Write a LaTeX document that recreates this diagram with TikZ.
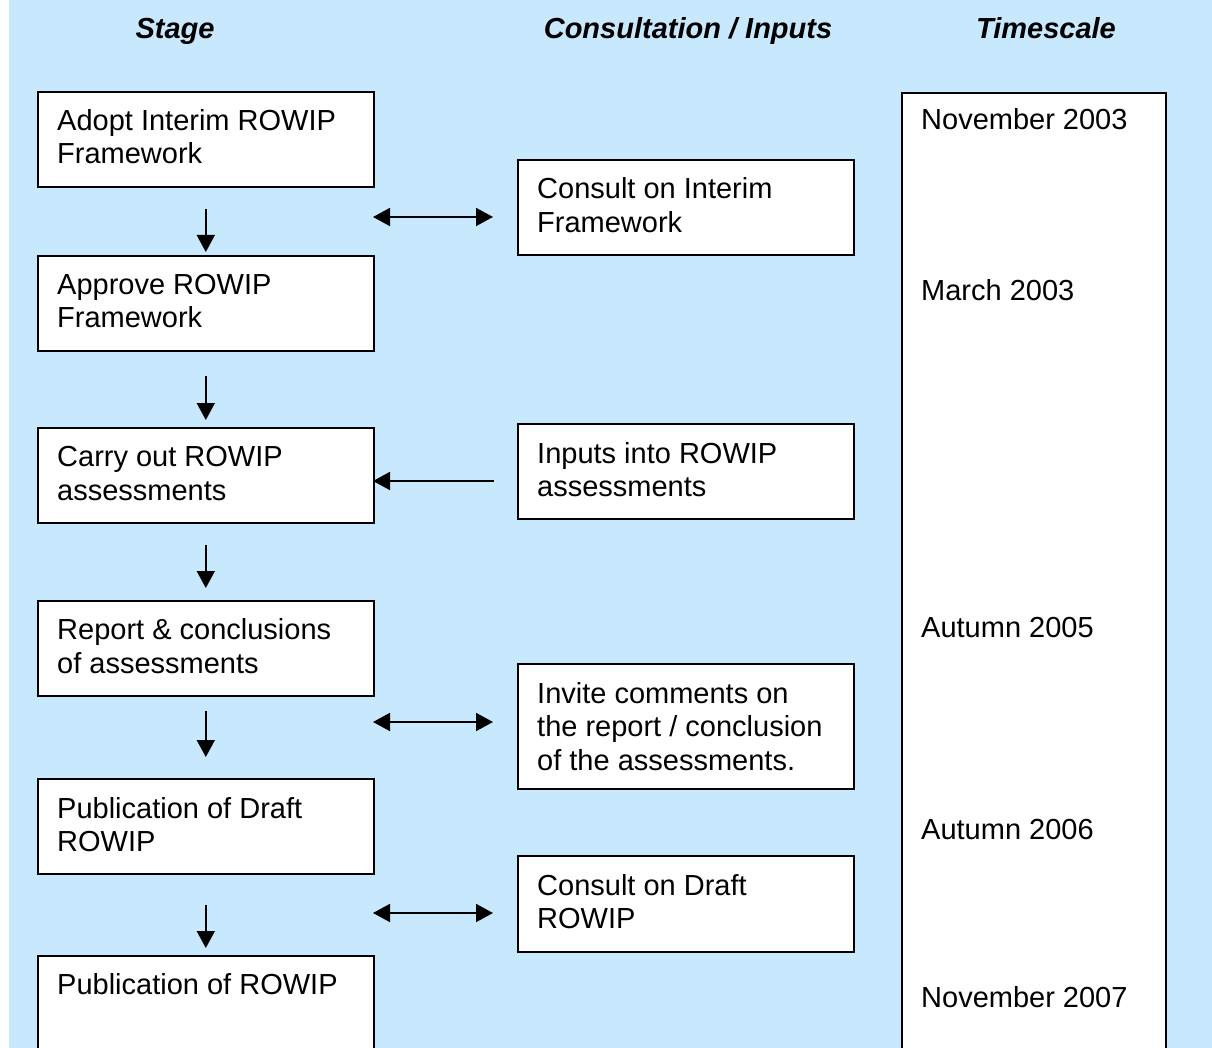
\documentclass[tikz,border=0pt]{standalone}
\usepackage{fontspec}
\setmainfont{Liberation Sans}
\usetikzlibrary{arrows.meta,calc}
\definecolor{bgblue}{RGB}{200,233,253}
\begin{document}
\begin{tikzpicture}[x=1pt,y=-1pt,
  box/.style={draw=black, line width=1.6pt, fill=white, anchor=north west, inner sep=0pt, minimum width=336pt, minimum height=95pt},
  tbox/.style={draw=black, line width=1.6pt, fill=white, anchor=north west, inner sep=0pt, minimum width=264pt, minimum height=1000pt},
  txt/.style={anchor=base west, align=left, inner sep=0pt, font=\fontsize{29}{33.5}\selectfont},
  hdr/.style={anchor=base, inner sep=0pt, font=\fontsize{29}{33.5}\selectfont\bfseries\itshape},
  arr/.style={line width=1.8pt, -{Triangle[width=18pt,length=17pt]}},
  darr/.style={line width=1.8pt, {Triangle[width=18pt,length=17pt]}-{Triangle[width=18pt,length=17pt]}}
]
\clip (0,0) rectangle (1212,1048);
\fill[bgblue] (9,0) rectangle (1212,1048);

% headers
\node[hdr] (h1) at (175,39) {Stage};
\node[hdr] (h2) at (688,39) {Consultation / Inputs};
\node[hdr] (h3) at (1046,39) {Timescale};

% stage boxes
\node[box] (b1) at (37,91) {};
\node[box] (b2) at (37,255) {};
\node[box] (b3) at (37,427) {};
\node[box] (b4) at (37,600) {};
\node[box] (b5) at (37,778) {};
\node[box, minimum height=130pt] (b6) at (37,955) {};

% consultation boxes
\node[box] (m1) at (517,159) {};
\node[box] (m2) at (517,423) {};
\node[box, minimum height=125pt] (m3) at (517,663) {};
\node[box, minimum height=96pt] (m4) at (517,855) {};

% timescale box
\node[tbox] (ts) at (901,92) {};

% texts (base anchor = baseline of the last line)
\node[txt] (tb1) at ($(b1.north west)+(20,73)$) {Adopt Interim ROWIP\\Framework};
\node[txt] (tb2) at ($(b2.north west)+(20,73)$) {Approve ROWIP\\Framework};
\node[txt] (tb3) at ($(b3.north west)+(20,73)$) {Carry out ROWIP\\assessments};
\node[txt] (tb4) at ($(b4.north west)+(20,73)$) {Report \& conclusions\\of assessments};
\node[txt] (tb5) at ($(b5.north west)+(20,73.5)$) {Publication of Draft\\ROWIP};
\node[txt] (tb6) at ($(b6.north west)+(20,39.5)$) {Publication of ROWIP};

\node[txt] (tm1) at ($(m1.north west)+(20,73.5)$) {Consult on Interim\\Framework};
\node[txt] (tm2) at ($(m2.north west)+(20,73.5)$) {Inputs into ROWIP\\assessments};
\node[txt] (tm3) at ($(m3.north west)+(20,107)$) {Invite comments on\\the report / conclusion\\of the assessments.};
\node[txt] (tm4) at ($(m4.north west)+(20,73.5)$) {Consult on Draft\\ROWIP};

\node[txt] (d1) at (921,130) {November 2003};
\node[txt] (d2) at (921,301) {March 2003};
\node[txt] (d3) at (921,637) {Autumn 2005};
\node[txt] (d4) at (921,839) {Autumn 2006};
\node[txt] (d5) at (921,1007) {November 2007};

% vertical arrows
\draw[arr, shorten <=21pt, shorten >=3pt] (b1.south) -- (b2.north);
\draw[arr, shorten <=24pt, shorten >=7pt] (b2.south) -- (b3.north);
\draw[arr, shorten <=21pt, shorten >=12pt] (b3.south) -- (b4.north);
\draw[arr, shorten <=14pt, shorten >=21pt] (b4.south) -- (b5.north);
\draw[arr, shorten <=30pt, shorten >=7pt] (b5.south) -- (b6.north);

% horizontal arrows
\coordinate (a1l) at (373,217); \coordinate (a1r) at (493,217);
\coordinate (a2l) at (373,481); \coordinate (a2r) at (494,481);
\coordinate (a3l) at (373,722); \coordinate (a3r) at (493,722);
\coordinate (a4l) at (373,913); \coordinate (a4r) at (493,913);
\draw[darr] (a1l) -- (a1r);
\draw[arr] (a2r) -- (a2l);
\draw[darr] (a3l) -- (a3r);
\draw[darr] (a4l) -- (a4r);
\end{tikzpicture}
\end{document}
